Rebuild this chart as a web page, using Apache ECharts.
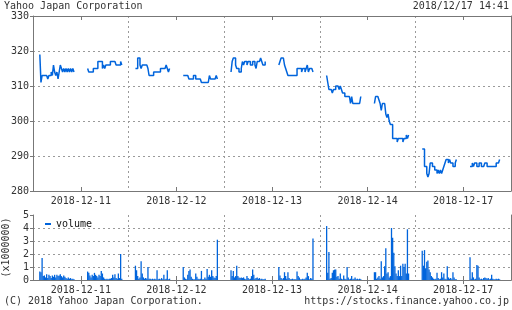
<!DOCTYPE html>
<html><head><meta charset="utf-8">
<script src="https://cdn.jsdelivr.net/npm/echarts@6/dist/echarts.min.js"></script>
<style>html,body{margin:0;padding:0;background:#fff}#c{width:512px;height:310px}</style>
</head><body><div id="c"></div>
<script>
// ---- data ----
const days = ['2018-12-11', '2018-12-12', '2018-12-13', '2018-12-14', '2018-12-17'];
const priceTicks = [280, 290, 300, 310, 320, 330];
const volumeTicks = [0, 1, 2, 3, 4, 5];
// prices sampled every 5 minutes: morning from 09:00, afternoon from 12:30
const price1211am = [319, 311, 313, 313, 313, 313, 313, 312, 313, 313, 314, 313, 316, 314, 313, 314, 312, 314, 316, 315, 314, 315, 314, 315, 314, 315, 314, 315, 314, 315, 314];
const price1211pm = [315, 314, 314, 314, 314, 315, 315, 315, 315, 317, 317, 317, 317, 315, 316, 315, 316, 316, 316, 316, 317, 317, 317, 317, 317, 316, 316, 316, 316, 317, 316];
const price1212am = [315, 315, 318, 318, 316, 315, 316, 316, 316, 316, 316, 315, 313, 313, 313, 313, 314, 314, 314, 314, 314, 314, 315, 315, 315, 315, 315, 316, 315, 314, 315];
const price1212pm = [313, 313, 313, 313, 313, 312, 312, 312, 312, 313, 313, 312, 312, 312, 312, 312, 311, 311, 311, 311, 311, 311, 311, 313, 312, 312, 312, 312, 312, 313, 312];
const price1213am = [314, 317, 318, 318, 316, 315, 315, 314, 314, 315, 317, 316, 317, 317, 316, 317, 317, 316, 316, 317, 317, 316, 315, 317, 317, 317, 318, 317, 316, 316, 317];
const price1213pm = [316, 317, 318, 318, 318, 316, 315, 314, 313, 313, 313, 313, 313, 313, 313, 313, 315, 315, 315, 315, 314, 315, 315, 314, 315, 316, 314, 315, 315, 315, 314];
const price1214am = [313, 311, 309, 309, 309, 308, 309, 309, 310, 310, 310, 309, 310, 309, 308, 308, 307, 307, 307, 307, 307, 305, 307, 305, 305, 305, 305, 305, 305, 305, 307];
const price1214pm = [305, 307, 307, 307, 306, 305, 303, 305, 305, 305, 302, 301, 302, 300, 299, 299, 295, 295, 295, 295, 294, 295, 295, 295, 295, 294, 295, 295, 296, 295, 296];
const price1217am = [292, 292, 287, 287, 285, 284, 285, 288, 288, 287, 287, 286, 286, 285, 286, 285, 286, 285, 286, 287, 288, 289, 289, 288, 289, 288, 288, 287, 287, 288, 289];
const price1217pm = [287, 287, 288, 287, 288, 288, 287, 287, 288, 288, 287, 287, 287, 288, 288, 287, 287, 287, 287, 287, 287, 287, 287, 288, 288, 288, 289];
// volume (x1000000) per 5 minutes
const vol1211am = [0.65, 0.6, 1.7, 0.3, 0.35, 0.2, 0.45, 0.15, 0.4, 0.3, 0.15, 0.35, 0.25, 0.4, 0.2, 0.4, 0.3, 0.35, 0.45, 0.3, 0.2, 0.35, 0.25, 0.15, 0.1, 0.2, 0.1, 0.15, 0.05, 0.1, 0.05];
const vol1211pm = [0.65, 0.55, 0.35, 0.2, 0.4, 0.3, 0.55, 0.4, 0.3, 0.2, 0.4, 0.3, 0.7, 0.5, 0.2, 0.1, 0.05, 0.1, 0.05, 0.1, 0.1, 0.15, 0.4, 0.2, 0.45, 0.15, 0.1, 0.5, 0.15, 2.0, 0.1];
const vol1212am = [1.1, 0.75, 0.3, 0.1, 0.2, 1.45, 0.5, 0.2, 0.1, 0.15, 0.1, 1.0, 0.1, 0.1, 0.05, 0.1, 0.05, 0.1, 0.05, 0.75, 0.05, 0.1, 0.05, 0.15, 0.05, 0.4, 0.05, 0.1, 0.75, 0.05, 0.1];
const vol1212pm = [1.0, 0.2, 0.1, 0.05, 0.4, 0.7, 0.8, 0.25, 0.1, 0.05, 0.05, 0.5, 0.25, 0.1, 0.05, 0.1, 0.7, 0.05, 0.05, 0.2, 0.1, 0.85, 0.25, 0.4, 0.25, 0.75, 0.3, 0.2, 0.15, 0.3, 3.1];
const vol1213am = [0.75, 0.3, 0.7, 0.2, 0.3, 1.1, 0.3, 0.2, 0.15, 0.2, 0.15, 0.2, 0.1, 0.05, 0.3, 0.15, 0.05, 0.1, 0.3, 0.8, 0.4, 0.1, 0.15, 0.2, 0.1, 0.15, 0.05, 0.1, 0.05, 0.05, 0.1];
const vol1213pm = [1.0, 0.35, 0.15, 0.05, 0.15, 0.6, 0.3, 0.1, 0.6, 0.15, 0.05, 0.05, 0.1, 0.05, 0.05, 0.05, 0.65, 0.3, 0.2, 0.05, 0.05, 0.1, 0.05, 0.1, 0.2, 0.55, 0.3, 0.05, 0.15, 0.1, 3.2];
const vol1214am = [4.15, 0.55, 2.15, 0.1, 0.15, 0.55, 0.75, 0.8, 0.8, 0.25, 0.3, 0.1, 0.5, 0.1, 0.05, 0.35, 0.1, 0.05, 1.0, 0.2, 0.05, 0.1, 0.3, 0.05, 0.1, 0.2, 0.05, 0.1, 0.05, 0.1, 0.05];
const vol1214pm = [0.6, 0.6, 0.1, 0.2, 0.3, 0.1, 1.45, 0.2, 0.3, 1.05, 2.45, 0.5, 0.6, 0.2, 0.3, 4.0, 3.25, 2.1, 1.05, 0.5, 0.3, 0.75, 0.3, 1.1, 0.3, 1.25, 1.0, 1.25, 0.5, 3.9, 0.5];
const vol1217am = [2.25, 1.1, 2.3, 0.9, 1.4, 1.5, 0.8, 0.6, 0.3, 0.2, 0.1, 0.05, 0.1, 0.55, 0.15, 0.05, 0.1, 0.6, 0.2, 0.5, 0.1, 0.05, 1.05, 0.2, 0.1, 0.15, 0.05, 0.6, 0.2, 0.05, 0.05];
const vol1217pm = [1.75, 0.1, 0.6, 0.2, 0.05, 0.1, 1.15, 1.1, 0.2, 0.05, 0.1, 0.05, 0.15, 0.2, 0.15, 0.1, 0.15, 0.05, 0.1, 0.4, 0.1, 0.05, 0.05, 0.1, 0.05, 0.1, 0.05];

const priceSessions = [[price1211am, price1211pm], [price1212am, price1212pm], [price1213am, price1213pm], [price1214am, price1214pm], [price1217am, price1217pm]];
const volSessions = [[vol1211am, vol1211pm], [vol1212am, vol1212pm], [vol1213am, vol1213pm], [vol1214am, vol1214pm], [vol1217am, vol1217pm]];

// ---- time scale: each day shown 08:30-15:30 (420 min), samples every 5 min ----
const DAY_MIN = 420, STEP = 5, SESSION_START = [30, 240]; // 09:00, 12:30 after 08:30
function pts(vals, d, s) { return vals.map((v, i) => [d * DAY_MIN + SESSION_START[s] + i * STEP, v]); }

const BLUE = '#0064dc', AX = '#777', TXT = '#333', GRIDC = '#9a9a9a';
const FONT = '"DejaVu Sans Mono", monospace';

const series = [];
priceSessions.forEach((sess, d) => sess.forEach((vals, s) => {
  series.push({ type: 'line', xAxisIndex: 2, yAxisIndex: 0, step: 'end', symbol: 'none', silent: true,
    lineStyle: { width: 1.5, color: BLUE }, itemStyle: { color: BLUE }, data: pts(vals, d, s) });
}));
let volData = [];
volSessions.forEach((sess, d) => sess.forEach((vals, s) => { volData = volData.concat(pts(vals, d, s)); }));
series.push({ type: 'bar', name: 'volume', xAxisIndex: 5, yAxisIndex: 2, barWidth: 1.3, silent: true,
  itemStyle: { color: BLUE }, data: volData });

function catAxis(g, pos, labels) {
  return { type: 'category', gridIndex: g, data: days, position: pos, boundaryGap: true,
    axisLine: { show: true, lineStyle: { color: AX } },
    axisTick: { show: true, inside: true, alignWithLabel: true, length: 4, lineStyle: { color: AX } },
    axisLabel: { show: labels, color: TXT, fontFamily: FONT, fontSize: 10, margin: 5 },
    splitLine: { show: pos === 'bottom', showMinLine: false, showMaxLine: false, lineStyle: { color: GRIDC, type: [2, 3] } } };
}
function valAxisHidden(g) { return { type: 'value', gridIndex: g, min: 0, max: 5 * DAY_MIN, show: false }; }
function rightBorder(g, mn, mx) {
  return { type: 'value', gridIndex: g, position: 'right', min: mn, max: mx,
    axisLine: { show: true, lineStyle: { color: AX } }, axisTick: { show: false }, axisLabel: { show: false }, splitLine: { show: false } };
}
function leftAxis(g, ticks, extra) {
  return Object.assign({ type: 'value', gridIndex: g, min: ticks[0], max: ticks[ticks.length - 1], interval: ticks[1] - ticks[0],
    axisLine: { show: true, lineStyle: { color: AX } },
    axisTick: { show: true, length: 3, lineStyle: { color: AX } },
    axisLabel: { color: TXT, fontFamily: FONT, fontSize: 10, margin: 4 },
    splitLine: { show: true, showMinLine: false, showMaxLine: false, lineStyle: { color: GRIDC, type: [2, 3] } } }, extra || {});
}

const chart = echarts.init(document.getElementById('c'), null, { renderer: 'canvas' });
chart.setOption({
  animation: false,
  backgroundColor: '#fff',
  textStyle: { fontFamily: FONT },
  title: [
    { text: 'Yahoo Japan Corporation', left: 4, top: 1, padding: 0, textStyle: { fontSize: 10, fontWeight: 'normal', color: TXT, fontFamily: FONT } },
    { text: '2018/12/17 14:41', right: 3, top: 1, padding: 0, textStyle: { fontSize: 10, fontWeight: 'normal', color: TXT, fontFamily: FONT } },
    { text: '(C) 2018 Yahoo Japan Corporation.', left: 4, top: 296, padding: 0, textStyle: { fontSize: 10, fontWeight: 'normal', color: TXT, fontFamily: FONT } },
    { text: 'https://stocks.finance.yahoo.co.jp', right: 3, top: 296, padding: 0, textStyle: { fontSize: 10, fontWeight: 'normal', color: TXT, fontFamily: FONT } }
  ],
  legend: { data: ['volume'], left: 45, top: 219, padding: 0, icon: 'rect', itemWidth: 6, itemHeight: 2,
    textStyle: { fontSize: 10, fontFamily: FONT, color: '#111' } },
  grid: [
    { left: 33, top: 16, width: 478, height: 175, outerBoundsMode: 'none', containLabel: false },
    { left: 33, top: 215, width: 478, height: 65, outerBoundsMode: 'none', containLabel: false }
  ],
  xAxis: [catAxis(0, 'bottom', true), catAxis(0, 'top', false), valAxisHidden(0),
          catAxis(1, 'bottom', true), catAxis(1, 'top', false), valAxisHidden(1)],
  yAxis: [leftAxis(0, priceTicks), rightBorder(0, 280, 330),
          leftAxis(1, volumeTicks, { name: '(x1000000)', nameLocation: 'middle', nameRotate: 90, nameGap: 22,
            nameTextStyle: { fontSize: 10, color: TXT, fontFamily: FONT } }),
          rightBorder(1, 0, 5)],
  series: series
});
</script></body></html>
